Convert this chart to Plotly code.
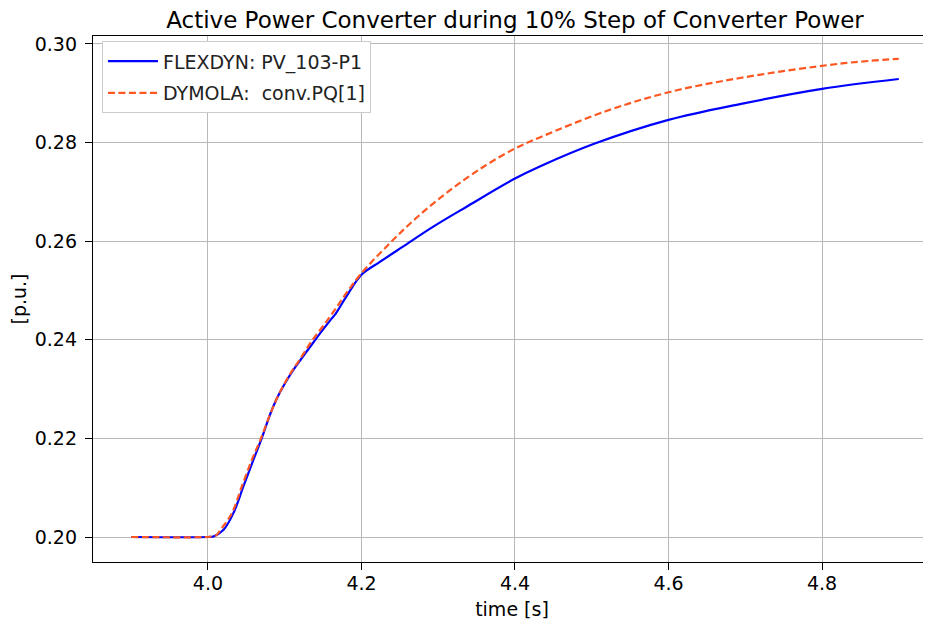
import plotly.graph_objects as go

# FLEXDYN: PV_103-P1
flex_t = [3.90, 4.000, 4.007, 4.020, 4.033, 4.046, 4.059, 4.070, 4.081, 4.090, 4.100, 4.110,
          4.120, 4.137, 4.150, 4.159, 4.166, 4.180, 4.200, 4.224, 4.254, 4.293, 4.337,
          4.400, 4.433, 4.504, 4.600, 4.693, 4.800, 4.900]
flex_v = [0.2000, 0.2000, 0.2001, 0.2014, 0.2048, 0.2102, 0.2156, 0.2200, 0.2249, 0.2282, 0.2311, 0.2336,
          0.2358, 0.2394, 0.2421, 0.2439, 0.2452, 0.2487, 0.2532, 0.2558, 0.2589, 0.2629, 0.2670,
          0.2727, 0.2752, 0.2798, 0.2846, 0.2878, 0.2909, 0.2929]

# DYMOLA: conv.PQ[1]
dym_t = [3.90, 4.000, 4.005, 4.011, 4.016, 4.031, 4.044, 4.057, 4.069, 4.081, 4.090, 4.100, 4.110,
         4.120, 4.135, 4.150, 4.165, 4.180, 4.200, 4.237, 4.272, 4.315, 4.359, 4.400,
         4.433, 4.519, 4.600, 4.693, 4.823, 4.900]
dym_v = [0.2000, 0.2000, 0.2001, 0.2004, 0.2014, 0.2048, 0.2102, 0.2156, 0.2200, 0.2249, 0.2282, 0.2312, 0.2338,
         0.2361, 0.2397, 0.2428, 0.2460, 0.2494, 0.2535, 0.2596, 0.2648, 0.2703, 0.2751, 0.2788,
         0.2811, 0.2864, 0.2902, 0.2931, 0.2960, 0.2970]

title_text = "Active Power Converter during 10% Step of Converter Power"
x_label = "time [s]"
y_label = "[p.u.]"

FONT = "DejaVu Sans"
FS = 19
W, H = 923, 617  # page body adds an 8px margin

fig = go.Figure()
fig.add_trace(go.Scatter(
    x=flex_t, y=flex_v, mode="lines", name="FLEXDYN: PV_103-P1",
    line=dict(color="#0000ff", width=2.2, shape="spline", smoothing=1.0),
    legendgroup="a"))
fig.add_trace(go.Scatter(
    x=dym_t, y=dym_v, mode="lines", name="DYMOLA:  conv.PQ[1]",
    line=dict(color="#ff5722", width=2.2, dash="7px,3.5px", shape="spline", smoothing=1.0),
    legendgroup="b"))

fig.update_layout(
    width=W, height=H,
    margin=dict(l=85, r=0, t=28, b=63),
    paper_bgcolor="white", plot_bgcolor="white",
    font=dict(family=FONT, size=FS, color="black"),
    title=dict(text=title_text, x=507 / W, xref="container", xanchor="center",
               y=1 - 12 / H, yref="container", yanchor="middle",
               font=dict(family=FONT, size=23, color="black")),
    legend=dict(x=0.0107, y=0.99, xanchor="left", yanchor="top",
                bgcolor="white", bordercolor="#cccccc", borderwidth=1,
                font=dict(family=FONT, size=FS, color="#222222"),
                traceorder="grouped", tracegroupgap=4, itemwidth=50),
    showlegend=True,
)

fig.update_xaxes(
    range=[3.8502, 4.942], tick0=4.0, dtick=0.2, tickformat=".1f",
    showgrid=True, gridcolor="#b8b8b8", gridwidth=1.4,
    showline=True, linecolor="black", linewidth=1.4, mirror=True,
    ticks="outside", ticklen=7, tickcolor="black", tickwidth=1.4,
    zeroline=False, ticklabelstandoff=-3,
    tickfont=dict(family=FONT, size=FS, color="black"),
    title=dict(text=x_label, font=dict(family=FONT, size=FS, color="black"), standoff=9),
)
fig.update_yaxes(
    range=[0.19493, 0.30162], tick0=0.2, dtick=0.02, tickformat=".2f",
    showgrid=True, gridcolor="#b8b8b8", gridwidth=1.4,
    showline=True, linecolor="black", linewidth=1.4, mirror=False,
    ticks="outside", ticklen=7, tickcolor="black", tickwidth=1.4,
    zeroline=False, ticklabelstandoff=4,
    tickfont=dict(family=FONT, size=FS, color="black"),
    title=dict(text=y_label, font=dict(family=FONT, size=FS, color="black"), standoff=4),
)

fig.write_html("out.html")
